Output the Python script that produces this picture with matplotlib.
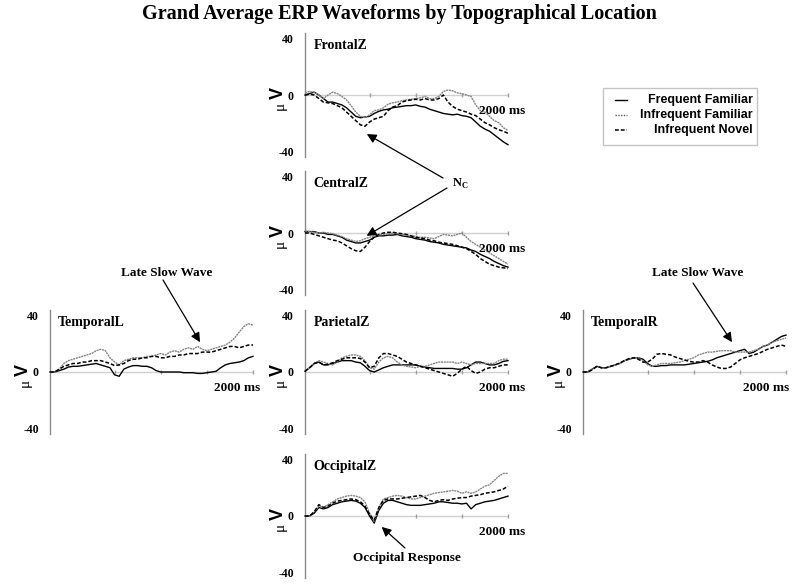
import matplotlib
matplotlib.use('Agg')
import matplotlib.pyplot as plt
import matplotlib.transforms as mtransforms
from matplotlib.lines import Line2D
from matplotlib.patches import Rectangle

plt.rcParams['font.family'] = ['Liberation Serif', 'DejaVu Serif']

# ---------------- data ----------------
time_ms = list(range(-200, 2001, 50))
conditions = ['Frequent Familiar', 'Infrequent Familiar', 'Infrequent Novel']
panel_names = ['FrontalZ', 'CentralZ', 'TemporalL', 'ParietalZ', 'TemporalR', 'OccipitalZ']
y_ticks = [-40, 0, 40]
y_tick_labels = ['-40', '0', '40']
x_tick_ms = [500, 1000, 1500, 2000]

frontal_ff = [0, 1, 2, 0, -2.5, -5, -5, -6, -7, -9, -12, -15, -16, -15.5, -15, -13, -11.5, -10.5, -10, -9,
              -8.5, -8, -7.5, -7.5, -7, -8, -8.5, -10, -11, -12, -13, -13.5, -14, -13.5, -14.5, -15, -16, -19,
              -22, -24, -25.5, -28, -30.5, -33, -35]
frontal_if = [1.5, 2.5, 2, 0, -2.5, 0, 2, 1, -1, -3.5, -7.5, -12, -15, -16, -14, -11, -10.5, -9, -6.5, -5.5,
              -5, -4, -3.5, -3, -2.5, -2, -1, -2.5, -2.5, -1, 2.5, 3.5, 3, 1.5, 1, 0, -1, -7, -11, -12, -15,
              -18, -19.5, -23, -25]
frontal_in = [0, 0.5, 0, -2.5, -5, -5.5, -6, -7.5, -9, -12, -15, -18, -21, -22, -19, -17, -16, -15, -11, -8.5,
              -7.5, -5, -4, -3.5, -3, -3.5, -2.5, -3.5, -3.5, -2.5, 0, -5, -8, -10, -11, -12, -13.5, -14.5,
              -17, -19.5, -21, -23, -24.5, -25.5, -27]

central_ff = [1, 1, 1, 0, 0, -1, -1, -2, -3, -5, -6, -7, -7, -6, -5, -3, -2, -2, -1.5, -1.5, -1, -2, -2.5,
              -3, -4, -4.5, -5, -6, -6.5, -7, -8, -8.5, -9, -9.5, -10, -10.5, -12, -13, -15, -16.5, -18, -20,
              -21.5, -23, -24]
central_if = [1.5, 1, 0.5, 0, 0.5, 0, -0.5, -1.5, -2.5, -4, -5, -6, -5.5, -4, -3, -2, -1.5, -1, -0.5, 0,
              -0.5, -1, -1.5, -2, -2.5, -3, -3, -3.5, -4, -2.5, -1, -1.5, -2, -1, 0, -3, -6, -8, -10, -12,
              -14, -16, -18, -20, -22]
central_in = [0, 0, -1, -2, -3, -4, -5, -5.5, -7, -9, -11, -12.5, -13, -10, -6, -3, -1, 0, 0.5, 0.5, 0,
              -0.5, -1, -2, -3, -3.5, -4, -5, -5.5, -6.5, -7, -7.5, -8, -9, -10, -11, -13, -15, -18, -20, -22,
              -23, -24, -24.5, -25]

temporal_l_ff = [0, 0, 1, 2, 3.5, 4, 4, 4.5, 5, 5.5, 6, 5, 4, 3, -2, -3, 2, 3.5, 4.5, 4.5, 4, 4, 3, 1, 0, 0,
                 0, 0, 0, -0.5, -0.5, -0.5, -1, -1, -0.5, 0, 0.5, 3, 5, 6, 6.5, 7, 8, 10, 11]
temporal_l_if = [0, 0, 2, 6, 8, 9, 10, 11, 12, 13, 15, 16, 15, 10, 7, 5, 8, 9, 10, 10, 10, 11, 11, 12, 13,
                 12, 14, 15, 14, 16, 17, 16, 18, 16, 15, 16, 17, 18, 19, 21, 24, 28, 32, 34, 33]
temporal_l_in = [0, 0, 2, 4, 5, 6, 6, 7, 7, 8, 8, 8, 7, 6, 4.5, 5, 6, 8, 9, 9, 10, 10, 11, 11, 10, 10, 11,
                 11, 12, 12, 13, 13, 13, 14, 14, 14, 15, 16, 17, 18, 18, 17, 18, 19, 19]

parietal_ff = [0.5, 3, 6, 7, 5, 5, 6, 7, 8, 8, 8, 7, 6.5, 4, 1, 0, 1.5, 3, 4, 5, 5, 5, 5, 5, 5, 4, 3.5, 3,
               2.5, 2.5, 2.5, 2.5, 2.5, 2, 2, 3, 5, 7, 7, 6, 5, 5, 6, 7.5, 8]
parietal_if = [1, 3, 6, 8, 7, 6, 5, 7, 10, 11, 12, 12, 11, 8, 3, 2, 7, 10, 11, 10, 7, 5, 4, 3.5, 3, 4, 4, 5,
               6, 7, 7, 7, 7, 6, 7, 6, 5, 6, 6, 6, 6, 6, 8, 9, 9]
parietal_in = [0.5, 3, 6, 7, 5, 5.5, 6.5, 8, 9, 10, 10, 10, 9.5, 7, 3, 4, 10, 13, 13, 12, 11, 9, 7, 6, 5, 4,
               3, 2, 1, 0, -1, -2, -3, -1, 2, 4, 1, -1, 0, 2, 3, 3, 4, 5, 5]

temporal_r_ff = [0, 0, 2, 4, 3, 3, 4, 5, 6, 8, 9, 10, 10, 9, 6, 4, 4, 4.5, 4.5, 5, 5, 5, 5, 5.5, 6, 6.5, 7,
                 7.5, 8.5, 10, 11, 12, 13, 14, 15, 16, 13, 14, 16, 18, 19, 21, 23, 25, 26]
temporal_r_if = [0, 0, 2, 4, 3, 3, 4, 5, 6, 8, 9, 10, 10, 8, 5, 4, 5, 6, 6, 6, 6.5, 7, 8, 9, 10, 12, 13, 14,
                 14, 14.5, 15, 15, 15, 14, 14, 14, 14, 15, 16, 18, 19, 21, 22, 23, 24]
temporal_r_in = [0, 0, 1.5, 4, 3, 3, 4, 5, 6.5, 8, 9.5, 10, 9, 7, 7, 9, 12.5, 13, 12.5, 12, 10.5, 9.5, 8.5,
                 7.5, 7, 7, 8, 7, 5, 3.5, 2.5, 2.5, 3.5, 6, 8.5, 10, 11, 12, 13, 14.5, 16, 17, 18, 19, 18]

occipital_ff = [0, 0, 2, 6, 5, 6, 8, 9, 10, 10.5, 11, 10.5, 9, 6, 0, -5, 4, 9, 11, 11, 10, 9, 8, 7.5, 7.5,
                7.5, 8, 8.5, 9, 10, 10, 9.5, 9, 9, 8.5, 9, 5, 8, 9, 10, 10.5, 11, 12, 13, 14]
occipital_if = [0, 0, 3, 7, 6, 8, 10, 12, 13, 14, 14.5, 14, 13, 10, 2, -4, 6, 12, 13, 14, 14.5, 14, 13, 12,
                12, 13, 14, 15, 16, 16.5, 17, 17.5, 18, 17.5, 16, 17, 16, 17, 19, 21, 22, 25, 28, 30, 30]
occipital_in = [0, 0, 3, 8, 6, 7, 9, 10.5, 11, 11.5, 12, 11.5, 10, 7, 1, -3, 6, 11, 12, 12, 12, 12.5, 13,
                13.5, 14, 14.5, 13, 11, 10, 11, 11.5, 11, 12, 12.5, 13, 13, 14, 14.5, 15, 16, 16.5, 17, 18,
                19, 21]

panel_data = {
    'FrontalZ': [frontal_ff, frontal_if, frontal_in],
    'CentralZ': [central_ff, central_if, central_in],
    'TemporalL': [temporal_l_ff, temporal_l_if, temporal_l_in],
    'ParietalZ': [parietal_ff, parietal_if, parietal_in],
    'TemporalR': [temporal_r_ff, temporal_r_if, temporal_r_in],
    'OccipitalZ': [occipital_ff, occipital_if, occipital_in],
}

# ---------------- layout (pixels) ----------------
W, H = 800, 588
AX_W = 203
PX_PER_UV = 1.42
YLIM = 44
# left edge of axis, y of zero line, x offset of "2000 ms" label end
layout = {
    'FrontalZ': (305, 95, 17),
    'CentralZ': (305, 233, 17),
    'TemporalL': (50, 372, 7),
    'ParietalZ': (305, 372, 17),
    'TemporalR': (583, 372, 3),
    'OccipitalZ': (305, 516, 17),
}

styles = [
    dict(color='black', lw=1.0, ls='-'),
    dict(color='#858585', lw=1.0, ls=(0, (1.5, 0.5))),
    dict(color='black', lw=1.1, ls=(0, (2.5, 1.3))),
]

serif = ['Liberation Serif', 'DejaVu Serif']
sans = ['Liberation Sans', 'DejaVu Sans']

fig = plt.figure(figsize=(W / 100, H / 100), dpi=100)

axes = {}
for name in panel_names:
    x0, zero_y, lbl_off = layout[name]
    h_px = 2 * YLIM * PX_PER_UV
    ax = fig.add_axes([x0 / W, (H - (zero_y + YLIM * PX_PER_UV)) / H, AX_W / W, h_px / H])
    ax.patch.set_alpha(0)
    ax.set_xlim(-200, 2000)
    ax.set_ylim(-YLIM, YLIM)
    for s in ['top', 'right', 'bottom']:
        ax.spines[s].set_visible(False)
    ax.spines['left'].set_color('#8a8a8a')
    ax.spines['left'].set_linewidth(1.0)
    ax.set_xticks([])
    ax.set_yticks(y_ticks)
    ax.set_yticklabels(y_tick_labels, family=serif, weight='bold', fontsize=8.5)
    ax.tick_params(axis='y', length=0, pad=8)

    ax.axhline(0, color='#d0d0d0', lw=1.0, zorder=0)
    ax.plot(x_tick_ms, [0] * len(x_tick_ms), ls='none', marker='|', ms=3, mew=1.0,
            color='#a0a0a0', zorder=0, clip_on=False)

    for series, st in zip(panel_data[name], styles):
        ax.plot(time_ms, series, color=st['color'], lw=st['lw'], ls=st['ls'], clip_on=False, zorder=3)

    ax.text(-110, 35, name, family=serif, weight='bold', fontsize=10, va='center', ha='left')
    ax.text(2000 + lbl_off * 2200 / AX_W, -11.6, '2000 ms', family=serif, weight='bold', fontsize=9.5,
            ha='right', va='center', clip_on=False)
    trans = mtransforms.blended_transform_factory(ax.transAxes, ax.transData)
    ax.text(-27 / AX_W, 1.5, 'V', transform=trans, rotation=90, family=sans, weight='bold',
            fontsize=13, ha='center', va='center')
    ax.text(-25 / AX_W, -8.0, 'μ', transform=trans, rotation=90, family=serif,
            fontsize=11, ha='center', va='center')
    axes[name] = ax

# title
fig.text(399 / W, 1 - 14 / H, 'Grand Average ERP Waveforms by Topographical Location',
         family=serif, weight='bold', fontsize=14.5, ha='center', va='center')

# overlay for annotations and legend
ov = fig.add_axes([0, 0, 1, 1])
ov.set_xlim(0, W)
ov.set_ylim(H, 0)
ov.axis('off')
ov.patch.set_alpha(0)

arrow_kw = dict(arrowstyle='-|>', mutation_scale=14, lw=0.9, color='black', shrinkA=0, shrinkB=0)

ov.text(457, 183.5, 'N', family=serif, weight='bold', fontsize=9, ha='center', va='center')
ov.text(465, 186.5, 'C', family=serif, weight='bold', fontsize=6, ha='center', va='center')
ov.annotate('', xy=(470, -27.5), xycoords=axes['FrontalZ'].transData,
            xytext=(443, 178), textcoords=ov.transData, arrowprops=arrow_kw)
ov.annotate('', xy=(468, -2), xycoords=axes['CentralZ'].transData,
            xytext=(447, 188), textcoords=ov.transData, arrowprops=arrow_kw)

ov.text(167, 273, 'Late Slow Wave', family=serif, weight='bold', fontsize=9.5, ha='center', va='center')
ov.annotate('', xy=(1426, 21), xycoords=axes['TemporalL'].transData,
            xytext=(163, 280), textcoords=ov.transData, arrowprops=arrow_kw)
ov.text(698, 273, 'Late Slow Wave', family=serif, weight='bold', fontsize=9.5, ha='center', va='center')
ov.annotate('', xy=(1415, 21), xycoords=axes['TemporalR'].transData,
            xytext=(693, 283), textcoords=ov.transData, arrowprops=arrow_kw)
ov.text(407, 558, 'Occipital Response', family=serif, weight='bold', fontsize=9.5, ha='center', va='center')
ov.annotate('', xy=(631, -7.7), xycoords=axes['OccipitalZ'].transData,
            xytext=(405, 548), textcoords=ov.transData, arrowprops=arrow_kw)

# legend
ov.add_patch(Rectangle((603, 88), 154, 57, fill=False, edgecolor='#c4c4c4', lw=1.0))
for i, (cond, st) in enumerate(zip(conditions, styles)):
    yy = 100 + 15 * i
    lcol = 'black' if i != 1 else '#555555'
    lls = st['ls'] if i != 1 else (0, (1, 1))
    ov.add_line(Line2D([615, 627], [yy, yy], color=lcol, lw=st['lw'], ls=lls))
    ov.text(753, yy, cond, family=sans, weight='bold', fontsize=9, ha='right', va='center')

fig.savefig('out.png', dpi=100)
